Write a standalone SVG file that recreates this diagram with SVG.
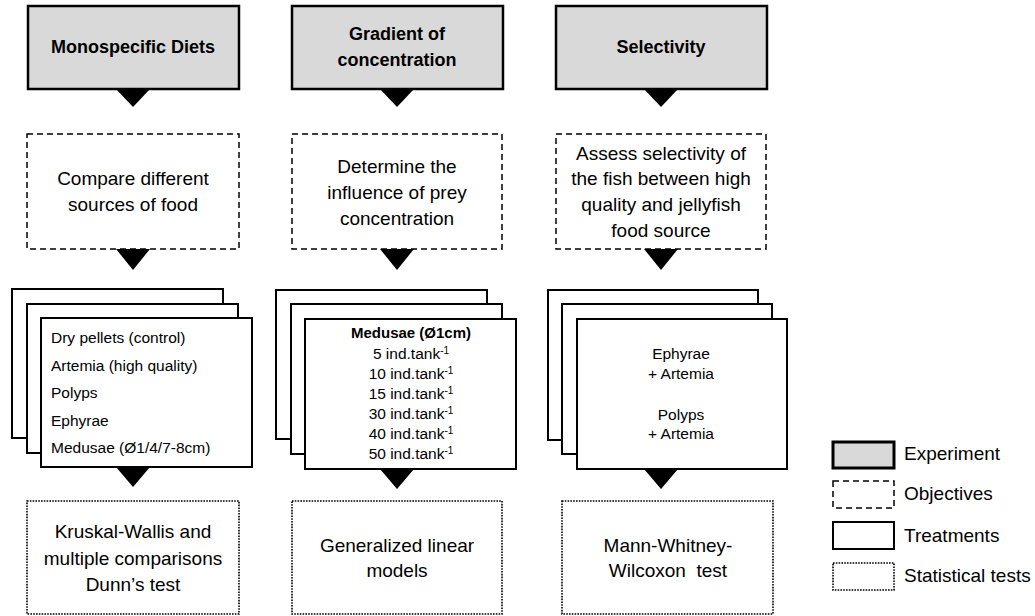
<svg xmlns="http://www.w3.org/2000/svg" width="1035" height="616" viewBox="0 0 1035 616">
<style>
text{font-family:"Liberation Sans",Arial,sans-serif;fill:#000}
.exp{fill:#d9d9d9;stroke:#000;stroke-width:2.5}
.obj{fill:#fff;stroke:#000;stroke-width:1.5;stroke-dasharray:6 4}
.trt{fill:#fff;stroke:#000;stroke-width:2}
.stat{fill:#fff;stroke:#000;stroke-width:1.6;stroke-dasharray:1.6 1.2}
.title{font-size:18px;font-weight:bold;text-anchor:middle}
.big{font-size:19px;text-anchor:middle}
.list{font-size:15.5px}
.mid{text-anchor:middle}
.leg{font-size:19px}
.arr{fill:#000}
</style>
<rect width="1035" height="616" fill="#fff"/>

<!-- Experiments -->
<g id="exp1"><rect class="exp" x="28" y="6" width="211" height="83"/><text class="title" x="133" y="53">Monospecific Diets</text></g>
<g id="exp2"><rect class="exp" x="292" y="6" width="211" height="83"/><text class="title" x="397" y="40">Gradient of</text><text class="title" x="397" y="66">concentration</text></g>
<g id="exp3"><rect class="exp" x="556" y="6" width="211" height="83"/><text class="title" x="661" y="53">Selectivity</text></g>

<!-- Objectives -->
<g id="obj1"><rect class="obj" x="27" y="134" width="212" height="115"/><text class="big" x="133" y="185">Compare different</text><text class="big" x="133" y="211">sources of food</text></g>
<g id="obj2"><rect class="obj" x="292" y="134" width="210" height="115"/><text class="big" x="397" y="173">Determine the</text><text class="big" x="397" y="199">influence of prey</text><text class="big" x="397" y="225">concentration</text></g>
<g id="obj3"><rect class="obj" x="556" y="134" width="210" height="115"/><text class="big" x="661" y="160">Assess selectivity of</text><text class="big" x="661" y="185">the fish between high</text><text class="big" x="661" y="211">quality and jellyfish</text><text class="big" x="661" y="237">food source</text></g>

<!-- Treatments -->
<g id="trt1">
<rect class="trt" x="12" y="289" width="211" height="149"/>
<rect class="trt" x="27" y="304" width="211" height="149"/>
<rect class="trt" x="41" y="318" width="211" height="149"/>
<text class="list" x="51" y="343">Dry pellets (control)</text>
<text class="list" x="51" y="371">Artemia (high quality)</text>
<text class="list" x="51" y="398">Polyps</text>
<text class="list" x="51" y="426">Ephyrae</text>
<text class="list" x="51" y="453">Medusae (Ø1/4/7-8cm)</text>
</g>
<g id="trt2">
<rect class="trt" x="276" y="290" width="211" height="149"/>
<rect class="trt" x="291" y="304" width="211" height="150"/>
<rect class="trt" x="305" y="319" width="211" height="150"/>
<text class="list mid" x="411" y="338" style="font-weight:bold;font-size:15px">Medusae (Ø1cm)</text>
<text class="list mid" x="411" y="359">5 ind.tank<tspan dy="-5" font-size="10">-1</tspan></text>
<text class="list mid" x="411" y="379">10 ind.tank<tspan dy="-5" font-size="10">-1</tspan></text>
<text class="list mid" x="411" y="399">15 ind.tank<tspan dy="-5" font-size="10">-1</tspan></text>
<text class="list mid" x="411" y="419">30 ind.tank<tspan dy="-5" font-size="10">-1</tspan></text>
<text class="list mid" x="411" y="439">40 ind.tank<tspan dy="-5" font-size="10">-1</tspan></text>
<text class="list mid" x="411" y="459">50 ind.tank<tspan dy="-5" font-size="10">-1</tspan></text>
</g>
<g id="trt3">
<rect class="trt" x="548" y="290" width="210" height="150"/>
<rect class="trt" x="562" y="304" width="210" height="150"/>
<rect class="trt" x="577" y="319" width="210" height="150"/>
<text class="list mid" x="681" y="359">Ephyrae</text>
<text class="list mid" x="681" y="379">+ Artemia</text>
<text class="list mid" x="681" y="420">Polyps</text>
<text class="list mid" x="681" y="439">+ Artemia</text>
</g>

<!-- Statistical tests -->
<g id="stat1"><rect class="stat" x="27" y="501" width="212" height="113"/><text class="big" x="133" y="538">Kruskal-Wallis and</text><text class="big" x="133" y="565">multiple comparisons</text><text class="big" x="133" y="591">Dunn’s test</text></g>
<g id="stat2"><rect class="stat" x="292" y="501" width="210" height="113"/><text class="big" x="397" y="552">Generalized linear</text><text class="big" x="397" y="577">models</text></g>
<g id="stat3"><rect class="stat" x="562" y="501" width="211" height="113"/><text class="big" x="668" y="552">Mann-Whitney-</text><text class="big" x="668" y="577" xml:space="preserve">Wilcoxon  test</text></g>

<!-- Connectors -->
<g id="connectors">
<polygon class="arr" points="116,89 150,89 133,107"/>
<polygon class="arr" points="380,89 414,89 397,107"/>
<polygon class="arr" points="644,89 678,89 661,107"/>
<polygon class="arr" points="116,249 150,249 133,270"/>
<polygon class="arr" points="380,249 414,249 397,270"/>
<polygon class="arr" points="644,249 678,249 661,270"/>
<polygon class="arr" points="116,467 150,467 133,487"/>
<polygon class="arr" points="380,469 414,469 397,489"/>
<polygon class="arr" points="644,469 678,469 661,489"/>
</g>

<!-- Legend -->
<g id="legend">
<rect class="exp" x="833" y="442" width="61" height="26" style="stroke-width:3"/>
<text class="leg" x="904" y="460">Experiment</text>
<rect class="obj" x="833" y="481" width="61" height="27"/>
<text class="leg" x="904" y="500">Objectives</text>
<rect class="trt" x="833" y="522" width="61" height="27"/>
<text class="leg" x="904" y="542">Treatments</text>
<rect class="stat" x="833" y="563" width="61" height="27"/>
<text class="leg" x="904" y="582">Statistical tests</text>
</g>
</svg>
